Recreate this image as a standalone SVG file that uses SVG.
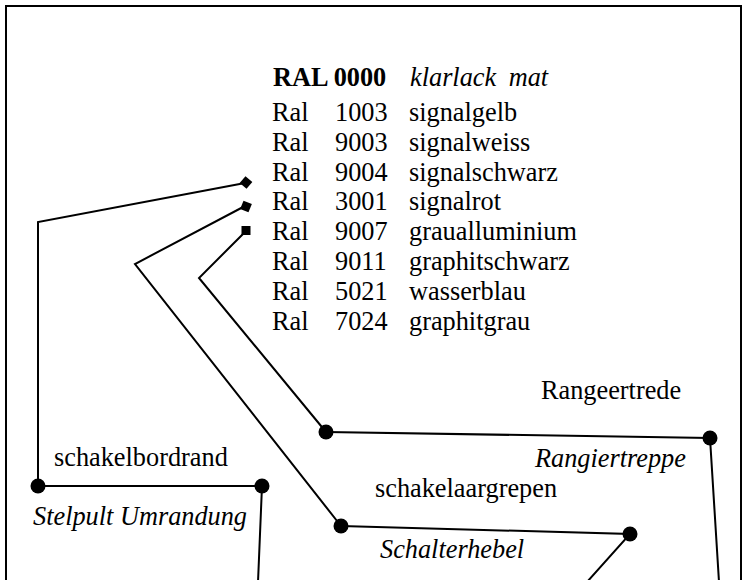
<svg xmlns="http://www.w3.org/2000/svg" width="744" height="580" viewBox="0 0 744 580">
<style>
text{font-family:"Liberation Serif","Times New Roman",serif;font-size:26.3px;fill:#000}
.b{font-weight:bold}
.i{font-style:italic}
.ln{fill:none;stroke:#000;stroke-width:2}
.dot{fill:#000}
</style>
<rect x="6" y="6" width="735" height="620" fill="#fff" stroke="#000" stroke-width="2"/>
<g id="ral-list">
<text x="273" y="86" class="b">RAL 0000</text>
<text x="410" y="86" class="i" word-spacing="6">klarlack mat</text>
<g><text x="272" y="121">Ral</text><text x="335" y="121">1003</text><text x="409" y="121">signalgelb</text></g>
<g><text x="272" y="151">Ral</text><text x="335" y="151">9003</text><text x="409" y="151">signalweiss</text></g>
<g><text x="272" y="181">Ral</text><text x="335" y="181">9004</text><text x="409" y="181">signalschwarz</text></g>
<g><text x="272" y="210">Ral</text><text x="335" y="210">3001</text><text x="409" y="210">signalrot</text></g>
<g><text x="272" y="240">Ral</text><text x="335" y="240">9007</text><text x="409" y="240">graualluminium</text></g>
<g><text x="272" y="270">Ral</text><text x="335" y="270">9011</text><text x="409" y="270">graphitschwarz</text></g>
<g><text x="272" y="300">Ral</text><text x="335" y="300">5021</text><text x="409" y="300">wasserblau</text></g>
<g><text x="272" y="330">Ral</text><text x="335" y="330">7024</text><text x="409" y="330">graphitgrau</text></g>
</g>
<g id="connectors">
<polyline class="ln" points="38,486 38,222 245,183"/>
<polyline class="ln" points="341,526 135,264 245,206"/>
<polyline class="ln" points="326,432 199,278 245,232"/>
<polyline class="ln" points="38,486 262,486 258,582"/>
<polyline class="ln" points="326,432 710,438 719,582"/>
<polyline class="ln" points="341,526 630,534 587,582"/>
</g>
<g id="markers">
<rect x="-4.5" y="-4.5" width="9" height="9" transform="translate(246,182.5) rotate(40)"/>
<rect x="-4.5" y="-4.5" width="9" height="9" transform="translate(246,206.5) rotate(22)"/>
<rect x="241.5" y="226" width="9" height="9"/>
</g>
<g id="schakelbordrand">
<circle class="dot" cx="38" cy="486" r="7.5"/>
<circle class="dot" cx="262" cy="486" r="7.5"/>
<text x="54" y="466">schakelbordrand</text>
<text x="33" y="525" class="i">Stelpult Umrandung</text>
</g>
<g id="rangeertrede">
<circle class="dot" cx="326" cy="432" r="7.5"/>
<circle class="dot" cx="710" cy="438" r="7.5"/>
<text x="541" y="399">Rangeertrede</text>
<text x="535" y="467" class="i">Rangiertreppe</text>
</g>
<g id="schakelaargrepen">
<circle class="dot" cx="341" cy="526" r="7.5"/>
<circle class="dot" cx="630" cy="534" r="7.5"/>
<text x="375" y="497">schakelaargrepen</text>
<text x="380" y="558" class="i">Schalterhebel</text>
</g>
</svg>
